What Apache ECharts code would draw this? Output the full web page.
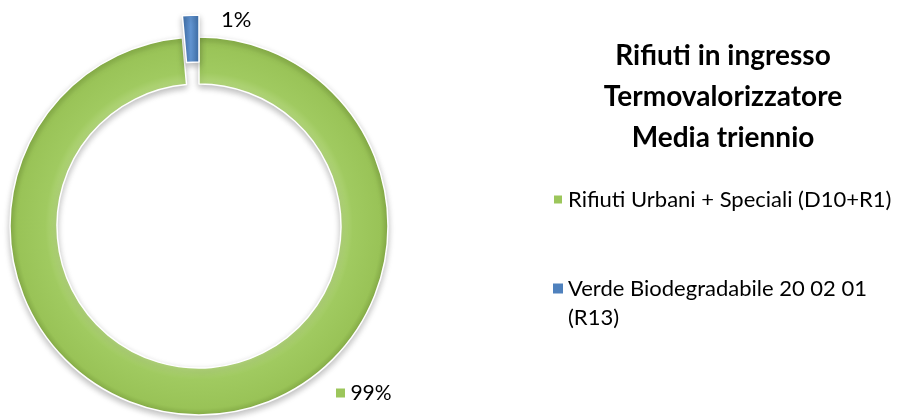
<!DOCTYPE html>
<html><head><meta charset="utf-8">
<script src="https://cdn.jsdelivr.net/npm/echarts@6/dist/echarts.min.js"></script>
<style>html,body{margin:0;padding:0;background:#fff}#c{width:898px;height:420px}</style>
</head><body><div id="c"></div>
<script>
const categories = ['Rifiuti Urbani + Speciali (D10+R1)', 'Verde Biodegradabile 20 02 01 (R13)'];
const values = [98.6, 1.4];
const titleLines = ['Rifiuti in ingresso', 'Termovalorizzatore', 'Media triennio'];

const FONT = 'Lato';
const green = {type:'radial', x:0.5, y:0.5, r:0.5, colorStops:[
  {offset:0, color:'#a9cf6c'}, {offset:0.75, color:'#b3d67c'}, {offset:0.81, color:'#a0ca60'},
  {offset:0.96, color:'#99c357'}, {offset:1, color:'#86ad47'}]};
const blue = {type:'linear', x:0, y:0, x2:1, y2:0, colorStops:[
  {offset:0, color:'#3d6da6'}, {offset:0.5, color:'#6295d2'}, {offset:1, color:'#3d6da6'}]};
const keyColors = ['#9cc65b', '#4f81bd'];
const hidden = {color: 'rgba(0,0,0,0)', borderWidth: 0, shadowBlur: 0, shadowColor: 'rgba(0,0,0,0)'};

const pct = p => Math.round(p.percent) + '%';
const baseSeries = {
  type: 'pie', radius: [142, 189], startAngle: 90, clockwise: true,
  avoidLabelOverlap: false, silent: true,
  itemStyle: {borderColor: '#fff', borderWidth: 1.5, shadowColor: 'rgba(0,0,0,0.25)', shadowBlur: 6, shadowOffsetY: 3},
  labelLine: {show: false}
};

const chart = echarts.init(document.getElementById('c'));
chart.setOption({
  animation: false,
  title: {
    text: titleLines.join('\n'),
    left: 723, top: 35, padding: 0, textAlign: 'center',
    textStyle: {fontFamily: FONT, fontWeight: 'bold', fontSize: 28, lineHeight: 41, color: '#000'}
  },
  legend: {
    orient: 'vertical', left: 552, top: 185, itemGap: 31, padding: 0,
    itemWidth: 10, itemHeight: 10, icon: 'rect',
    textStyle: {fontFamily: FONT, fontSize: 22, color: '#000', lineHeight: 29},
    data: [
      {name: categories[0], itemStyle: {color: keyColors[0]}},
      {name: categories[1], itemStyle: {color: keyColors[1]}}
    ],
    formatter: function (n) { return n === categories[1] ? '\n' + n.replace(' (R13)', '\n(R13)') : n; }
  },
  series: [
    Object.assign({}, baseSeries, {
      name: 'main', center: [199, 226],
      label: {
        show: true, formatter: p => '{k|}{t| ' + pct(p) + '}',
        rich: {k: {width: 9, height: 9, backgroundColor: keyColors[0]},
               t: {fontFamily: FONT, fontSize: 21, color: '#000'}}
      },
      labelLayout: () => ({x: 336, y: 393, align: 'left', verticalAlign: 'middle'}),
      data: [
        {name: categories[0], value: values[0], itemStyle: {color: green}},
        {name: categories[1], value: values[1], itemStyle: hidden, label: {show: false}}
      ]
    }),
    Object.assign({}, baseSeries, {
      name: 'exploded', center: [199, 204],
      label: {show: true, formatter: pct, fontFamily: FONT, fontSize: 22, color: '#000'},
      labelLayout: () => ({x: 221, y: 20, align: 'left', verticalAlign: 'middle'}),
      data: [
        {name: categories[0], value: values[0], itemStyle: hidden, label: {show: false}},
        {name: categories[1], value: values[1], itemStyle: {color: blue}}
      ]
    })
  ]
});
</script></body></html>
